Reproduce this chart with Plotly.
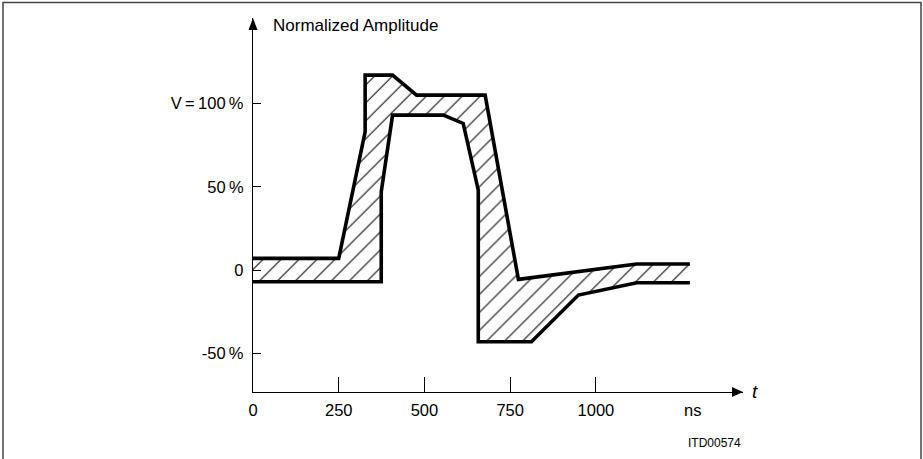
import plotly.graph_objects as go

# ---- data ----
T_UPPER = [0, 250, 327, 327, 407, 477, 677, 774, 1119, 1274]
V_UPPER = [7, 7, 83, 117, 117, 105, 105, -5.6, 3.6, 3.6]

T_LOWER = [0, 374, 374, 407, 555, 613, 657, 657, 812, 949, 1119, 1274]
V_LOWER = [-7, -7, 47, 93, 93, 88, 48, -43, -43, -15, -7.6, -7.6]

X_TICKS = [0, 250, 500, 750, 1000]
X_TICK_TEXT = ["0", "250", "500", "750", "1000"]
Y_TICKS = [-50, 0, 50, 100]
Y_TICK_TEXT = ["-50\u2009%", "0", "50\u2009%", "V\u2009=\u2009100\u2009%"]

X_RANGE = [0, 1429]
Y_RANGE = [-73.2, 151.3]

FONT = "Liberation Sans, Arial, sans-serif"

W, H = 923, 459
ML, MR, MT, MB = 253, 180, 18, 67
PW, PH = W - ML - MR, H - MT - MB


def px(x):
    return (x - ML) / PW


def py(y):
    return (H - MB - y) / PH


fig = go.Figure()

# hatched tolerance band
fig.add_trace(go.Scatter(
    x=T_UPPER + T_LOWER[::-1],
    y=V_UPPER + V_LOWER[::-1],
    mode="lines", fill="toself", line=dict(width=0, color="rgba(0,0,0,0)"),
    fillcolor="white",
    fillpattern=dict(shape="/", size=12.7, solidity=0.08,
                     fgcolor="black", bgcolor="white", fillmode="replace"),
    hoverinfo="skip", showlegend=False,
))
fig.add_trace(go.Scatter(x=T_UPPER, y=V_UPPER, mode="lines",
                         line=dict(color="black", width=3.6),
                         showlegend=False))
fig.add_trace(go.Scatter(x=T_LOWER, y=V_LOWER, mode="lines",
                         line=dict(color="black", width=3.6),
                         showlegend=False))

fig.update_xaxes(range=X_RANGE, showgrid=False, zeroline=False,
                 showline=True, linecolor="black", linewidth=1.3,
                 tickvals=X_TICKS, ticktext=X_TICK_TEXT,
                 ticks="inside", ticklen=15, tickwidth=1, tickcolor="black",
                 tickfont=dict(family=FONT, size=16.5, color="black"),
                 ticklabelstandoff=3)
fig.update_yaxes(range=Y_RANGE, showgrid=False, zeroline=False,
                 showline=True, linecolor="black", linewidth=1.3,
                 tickvals=Y_TICKS, ticktext=Y_TICK_TEXT,
                 ticks="inside", ticklen=8, tickwidth=1, tickcolor="black",
                 tickfont=dict(family=FONT, size=16.5, color="black"),
                 ticklabelstandoff=5)

shapes = [
    # arrow heads
    dict(type="path", xref="paper", yref="paper",
         path=f"M{px(253)},{py(18)} L{px(248.5)},{py(30)} L{px(257.5)},{py(30)} Z",
         fillcolor="black", line=dict(width=0)),
    dict(type="path", xref="paper", yref="paper",
         path=f"M{px(743)},{py(392)} L{px(732)},{py(387)} L{px(732)},{py(397)} Z",
         fillcolor="black", line=dict(width=0)),
    # frame
    dict(type="rect", xref="paper", yref="paper",
         x0=px(3), x1=px(921), y0=py(470), y1=py(2.5),
         line=dict(color="#444", width=1.5), fillcolor="rgba(0,0,0,0)"),
]

annotations = [
    dict(text="Normalized Amplitude", xref="paper", yref="paper",
         x=px(271), y=py(26), xanchor="left", yanchor="middle", showarrow=False,
         font=dict(family=FONT, size=17, color="black")),
    dict(text="<i>t</i>", xref="paper", yref="paper",
         x=px(750), y=py(391), xanchor="left", yanchor="middle", showarrow=False,
         font=dict(family=FONT, size=19, color="black")),
    dict(text="ns", xref="paper", yref="paper",
         x=px(692), y=py(410), xanchor="center", yanchor="middle", showarrow=False,
         font=dict(family=FONT, size=16.5, color="black")),
    dict(text="ITD00574", xref="paper", yref="paper",
         x=px(714), y=py(443), xanchor="center", yanchor="middle", showarrow=False,
         font=dict(family=FONT, size=12, color="black")),
]

fig.update_layout(
    width=W, height=H,
    margin=dict(l=ML, r=MR, t=MT, b=MB),
    paper_bgcolor="white", plot_bgcolor="white",
    shapes=shapes, annotations=annotations,
    showlegend=False,
)

fig.write_html("out.html",
               config={"displayModeBar": False},
               post_script="document.body.style.margin='0px';document.body.style.overflow='hidden';")
